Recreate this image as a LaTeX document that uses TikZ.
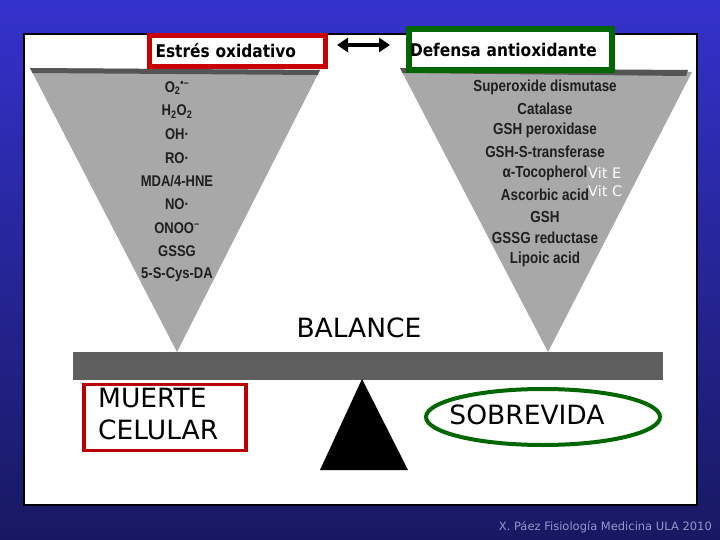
\documentclass[tikz,border=0pt]{standalone}
\usepackage{fontspec}
\setmainfont{Liberation Sans}
\newfontfamily\tahoma[FakeStretch=0.88]{DejaVu Sans}
\newfontfamily\verd{DejaVu Sans}
\newfontfamily\scanfont[FakeStretch=0.84]{Liberation Sans}
\usepackage{xcolor}
\usepackage{tikz}
\usetikzlibrary{arrows.meta, positioning, shapes.geometric}
\definecolor{slidetop}{RGB}{52,50,204}
\definecolor{slidebot}{RGB}{24,24,98}
\definecolor{boxred}{RGB}{200,0,0}
\definecolor{deathred}{RGB}{185,0,0}
\definecolor{boxgreen}{RGB}{0,102,0}
\definecolor{trigray}{RGB}{168,168,168}
\definecolor{bandgray}{RGB}{85,85,85}
\definecolor{beamgray}{RGB}{95,95,95}
\definecolor{footblue}{RGB}{150,150,205}
\tikzset{
  titlebox/.style={draw,fill=white,inner sep=0pt,align=left,font=\tahoma\bfseries\fontsize{17.5}{17.5}\selectfont},
  itemtxt/.style={inner sep=0pt,text=black!88,font=\scanfont\bfseries\fontsize{15.5}{15.5}\selectfont},
  vittxt/.style={anchor=west,inner sep=0pt,text=white,font=\verd\fontsize{14.5}{14.5}\selectfont},
  bigword/.style={inner sep=0pt,text=black,font=\verd\fontsize{26.5}{32}\selectfont},
  deathbox/.style={draw=deathred,line width=3.3pt,minimum width=162pt,minimum height=66pt,inner sep=0pt},
  survring/.style={ellipse,draw=boxgreen,line width=4pt,minimum width=234pt,minimum height=56pt,inner sep=0pt},
  dblarrow/.style={{Triangle[length=11pt,width=14pt]}-{Triangle[length=11pt,width=14pt]},line width=4pt},
}

\begin{document}
\begin{tikzpicture}[x=1pt,y=-1pt]
  \useasboundingbox (0,0) rectangle (720,540);
  \shade[top color=slidetop,bottom color=slidebot] (0,0) rectangle (720,540);
  \draw[fill=white,line width=1.2pt] (24,34) rectangle (697,505);

  % the two cones
  \fill[trigray] (30,68) -- (320,70) -- (177,352) -- cycle;
  \fill[bandgray] (30,68) -- (320,70) -- (317.5,75) -- (32.6,73) -- cycle;
  \fill[trigray] (400,68) -- (692,72) -- (548,352) -- cycle;
  \fill[bandgray] (400,68) -- (688,70) -- (686,76) -- (402.6,73) -- cycle;

  % scale
  \fill[beamgray] (73,352) rectangle (663,380);
  \fill[black] (362,379) -- (408,470) -- (320,470) -- cycle;

  \node[titlebox,draw=boxred,line width=5pt,text width=164pt,inner xsep=6pt,minimum height=31pt] (estres) at (237.5,51) {Estrés oxidativo};
  \node[titlebox,draw=boxgreen,line width=6pt,text width=201pt,inner xsep=1pt,minimum height=41pt] (defensa) at (510.5,49.5) {Defensa antioxidante};
  \coordinate (arrL) at (337,45);
  \coordinate (arrR) at (390,45);
  \draw[dblarrow] (arrL) -- (arrR);

  \foreach \txt [count=\i from 0] in {{O\textsubscript{2}\textsuperscript{•–}},{H\textsubscript{2}O\textsubscript{2}},{OH·},{RO·},{MDA/4-HNE},{NO·},{ONOO\textsuperscript{–}},{GSSG},{5-S-Cys-DA}}
    \node[itemtxt] (ros\i) at (177,88+23.3*\i) {\txt};
  \foreach \txt [count=\i from 0] in {Superoxide dismutase,Catalase,GSH peroxidase,GSH-S-transferase,α-Tocopherol,Ascorbic acid,GSH,GSSG reductase,Lipoic acid}
    \node[itemtxt,font=\scanfont\bfseries\fontsize{16}{16}\selectfont] (aox\i) at (545,87+21.6*\i) {\txt};
  \node[vittxt] (vite) at (588,172.5) {Vit E};
  \node[vittxt] (vitc) at (588,191.5) {Vit C};

  \node[bigword] (balance) at (359,327.5) {BALANCE};
  \node[deathbox] (muertebox) at (165,417.5) {};
  \node[bigword,anchor=west,align=left] (muerte) at (98,414) {MUERTE\\CELULAR};
  \node[survring] (ring) at (543,417) {};
  \node[bigword] (sobre) at (527,414.5) {SOBREVIDA};

  \node[anchor=east,inner sep=0pt,text=footblue,font=\verd\fontsize{11.5}{11.5}\selectfont] (credit) at (712,527) {X. Páez Fisiología Medicina ULA 2010};
\end{tikzpicture}
\end{document}
